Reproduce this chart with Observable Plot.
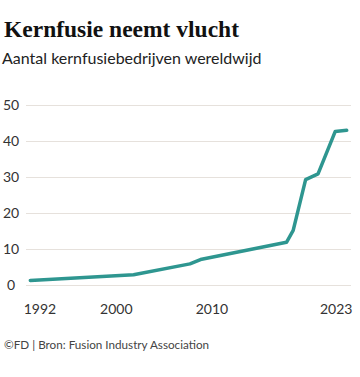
<!DOCTYPE html>
<html>
<head>
<meta charset="utf-8">
<script src="https://cdn.jsdelivr.net/npm/d3@7"></script>
<script src="https://cdn.jsdelivr.net/npm/@observablehq/plot@0.6"></script>
<style>
  html, body { margin: 0; padding: 0; background: #fff; }
  #wrap { position: relative; width: 360px; height: 377px; overflow: hidden; }
  #title { position: absolute; left: 4px; top: 17.6px; font-family: "Liberation Serif", serif; font-weight: bold; font-size: 23.5px; line-height: 1; color: #111; white-space: nowrap; }
  #subtitle { position: absolute; left: 2px; top: 50.2px; font-family: Lato, sans-serif; font-size: 16px; line-height: 1; color: #222; white-space: nowrap; }
  #chart { position: absolute; left: 0; top: 90px; }
  #caption { position: absolute; left: 4px; top: 338.8px; font-family: Lato, sans-serif; font-size: 11.7px; line-height: 1; color: #444; white-space: nowrap; }
</style>
</head>
<body>
<div id="wrap">
  <div id="title">Kernfusie neemt vlucht</div>
  <div id="subtitle">Aantal kernfusiebedrijven wereldwijd</div>
  <div id="chart"></div>
  <div id="caption">©FD | Bron: Fusion Industry Association</div>
</div>
<script>
// Data (year, number of fusion companies)
const years  = [1991, 2001.8, 2007.7, 2008.8, 2017.8, 2018.5, 2019.8, 2021.1, 2022.9, 2024.1];
const counts = [1.4,  3.0,    6.0,    7.2,    12.0,   15.3,   29.4,   31.0,   42.8,   43.1];
const xTicks = [1992, 2000, 2010, 2023];
const yTicks = [0, 10, 20, 30, 40, 50];

const data = years.map((y, i) => ({year: y, count: counts[i]}));

const chart = Plot.plot({
  width: 360,
  height: 230,
  marginLeft: 26,
  marginRight: 9,
  marginTop: 15,
  marginBottom: 35,
  x: {domain: [1990.6, 2024.6], label: null},
  y: {domain: [0, 50], label: null},
  style: {fontFamily: "Lato, sans-serif", fontSize: "14px", color: "#333", background: "transparent"},
  marks: [
    Plot.gridY(yTicks, {stroke: "#e6e1dc", strokeOpacity: 1, strokeWidth: 1}),
    Plot.axisY(yTicks, {label: null, tickSize: 0, tickPadding: 15.5, textAnchor: "middle", fill: "#333", tickFormat: d => String(d)}),
    Plot.axisX(xTicks, {label: null, tickSize: 0, tickPadding: 18.3, fill: "#333", tickFormat: d => String(d)}),
    Plot.line(data, {x: "year", y: "count", stroke: "#2e9690", strokeWidth: 3.5})
  ]
});
document.getElementById("chart").appendChild(chart);
</script>
</body>
</html>
